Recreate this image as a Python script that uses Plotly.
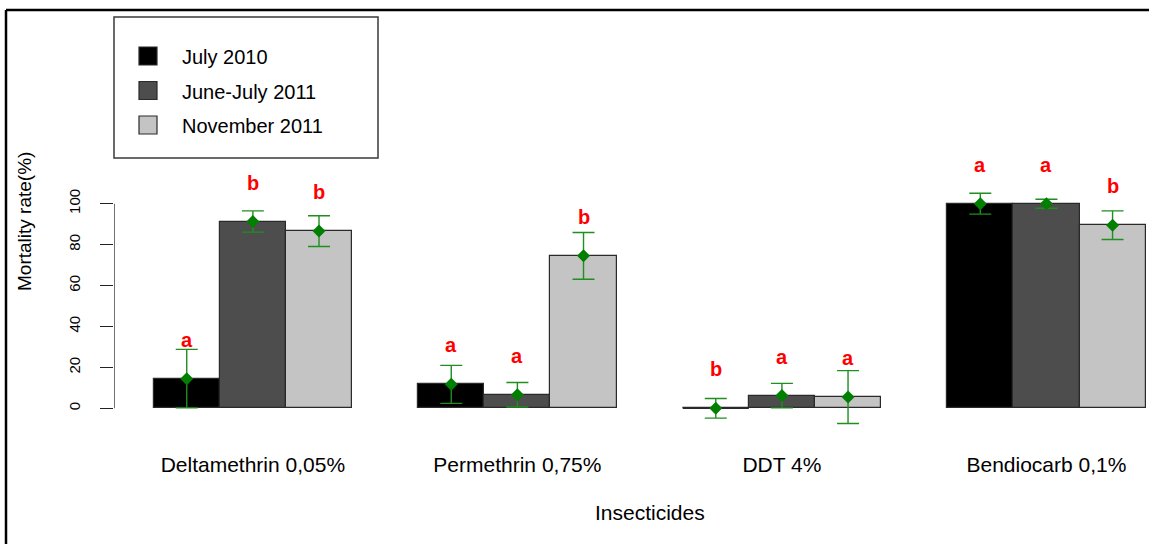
import plotly.graph_objects as go

# ---- data ----
insecticides = ["Deltamethrin 0,05%", "Permethrin 0,75%", "DDT 4%", "Bendiocarb 0,1%"]
periods = ["July 2010", "June-July 2011", "November 2011"]

mortality_jul2010 = [14.5, 11.7, 0.0, 100.0]
mortality_junjul2011 = [91.3, 6.6, 6.2, 100.0]
mortality_nov2011 = [86.6, 74.5, 5.5, 89.5]

ci_jul2010 = [14.3, 9.3, 4.8, 5.1]
ci_junjul2011 = [5.2, 6.0, 6.0, 2.2]
ci_nov2011 = [7.5, 11.4, 12.9, 7.0]

letters_jul2010 = ["a", "a", "b", "a"]
letters_junjul2011 = ["b", "a", "a", "a"]
letters_nov2011 = ["b", "b", "a", "b"]

y_ticks = [0, 20, 40, 60, 80, 100]

# ---- styling ----
bar_colors = ["#000000", "#4d4d4d", "#c4c4c4"]
FONT = "Liberation Sans, Arial, sans-serif"
W, H = 1149, 544
ML, MR, MT, MB = 114, 0, 0, 94
PW, PH = W - ML - MR, H - MT - MB
PX_PER_Y = 2.046
Y0_PX = 408.3
PX_PER_X = 66.13
X_MIN = 0.4

y_range = [-(MT + PH - Y0_PX) / PX_PER_Y, (Y0_PX - MT) / PX_PER_Y]
x_range = [X_MIN, X_MIN + PW / PX_PER_X]


def paper_x(px):
    return (px - ML) / PW


def paper_y(py):
    return (MT + PH - py) / PH


series = [
    (periods[0], mortality_jul2010, ci_jul2010, letters_jul2010),
    (periods[1], mortality_junjul2011, ci_junjul2011, letters_junjul2011),
    (periods[2], mortality_nov2011, ci_nov2011, letters_nov2011),
]

n_groups = len(insecticides)
n_series = len(series)
group_start = [1 + g * (n_series + 1) for g in range(n_groups)]
group_center = [s + n_series / 2 for s in group_start]

fig = go.Figure()
annotations = []

for i, (name, vals, ci, lets) in enumerate(series):
    xs = [group_start[g] + i + 0.5 for g in range(n_groups)]
    fig.add_trace(go.Bar(
        x=xs, y=vals, width=1, name=name,
        marker=dict(color=bar_colors[i], line=dict(color="#2a2a2a", width=1.2)),
        showlegend=False,
    ))
    # zero-height bars still show their outline as a flat line
    for x, v in zip(xs, vals):
        if v == 0:
            fig.add_trace(go.Scatter(
                x=[x - 0.5, x + 0.5], y=[v, v], mode="lines",
                line=dict(color="#2a2a2a", width=1.5), showlegend=False,
                hoverinfo="skip",
            ))
    fig.add_trace(go.Scatter(
        x=xs, y=vals, mode="markers",
        marker=dict(symbol="diamond", size=10, color="#007f00"),
        error_y=dict(type="data", array=ci, visible=True,
                     color="#1f8f1f", thickness=1.4, width=11),
        showlegend=False, cliponaxis=False,
    ))
    for x, v, l in zip(xs, vals, lets):
        annotations.append(dict(
            x=x, y=v + 19, xref="x", yref="y", text=l, showarrow=False,
            font=dict(family=FONT, size=20, color="#ff0000", weight="bold"),
            xanchor="center", yanchor="middle",
        ))

# y axis line (0..100 only)
shapes = [dict(type="line", xref="x", yref="y", x0=X_MIN, x1=X_MIN,
               y0=y_ticks[0], y1=y_ticks[-1],
               line=dict(color="#222222", width=1.3))]

# outer frame (top and left edges)
shapes.append(dict(type="line", xref="paper", yref="paper",
                   x0=paper_x(6), x1=paper_x(W + 5), y0=paper_y(10), y1=paper_y(10),
                   line=dict(color="#000000", width=2.5)))
shapes.append(dict(type="line", xref="paper", yref="paper",
                   x0=paper_x(6), x1=paper_x(6), y0=paper_y(10), y1=paper_y(H + 5),
                   line=dict(color="#000000", width=2.5)))

# legend box
shapes.append(dict(type="rect", xref="paper", yref="paper",
                   x0=paper_x(114), x1=paper_x(378), y0=paper_y(17), y1=paper_y(158),
                   line=dict(color="#3a3a3a", width=1.5), fillcolor="rgba(0,0,0,0)"))
row_centers = [56, 90.5, 125]
for i, name in enumerate(periods):
    cy = row_centers[i]
    shapes.append(dict(type="rect", xref="paper", yref="paper",
                       x0=paper_x(139), x1=paper_x(157),
                       y0=paper_y(cy - 9), y1=paper_y(cy + 9),
                       line=dict(color="#2a2a2a", width=1.2), fillcolor=bar_colors[i]))
    annotations.append(dict(
        x=paper_x(180), y=paper_y(cy + 1), xref="paper", yref="paper", text=name,
        showarrow=False, xanchor="left", yanchor="middle",
        font=dict(family=FONT, size=20, color="#000000"),
    ))

# axis titles
annotations.append(dict(
    x=(X_MIN + 16.6) / 2, y=paper_y(512), xref="x", yref="paper", text="Insecticides",
    showarrow=False, xanchor="center", yanchor="middle",
    font=dict(family=FONT, size=21, color="#000000"),
))
annotations.append(dict(
    x=paper_x(25), y=paper_y(222), xref="paper", yref="paper", text="Mortality rate(%)",
    showarrow=False, xanchor="center", yanchor="middle", textangle=-90,
    font=dict(family=FONT, size=19, color="#000000"),
))

fig.update_layout(
    width=W, height=H,
    margin=dict(l=ML, r=MR, t=MT, b=MB, pad=0),
    paper_bgcolor="white", plot_bgcolor="white",
    barmode="overlay", bargap=0,
    shapes=shapes, annotations=annotations,
    font=dict(family=FONT, color="#000000"),
    xaxis=dict(
        range=x_range, tickvals=group_center, ticktext=insecticides,
        showgrid=False, zeroline=False, showline=False, ticks="",
        tickfont=dict(family=FONT, size=21, color="#000000"),
    ),
    yaxis=dict(
        range=y_range, tickvals=y_ticks, ticktext=[str(t) for t in y_ticks],
        showgrid=False, zeroline=False, showline=False,
        ticks="outside", ticklen=13, tickwidth=1.3, tickcolor="#222222",
        tickangle=-90, ticklabelstandoff=14,
        tickfont=dict(family=FONT, size=15, color="#000000"),
    ),
)

fig.write_html("out.html")
